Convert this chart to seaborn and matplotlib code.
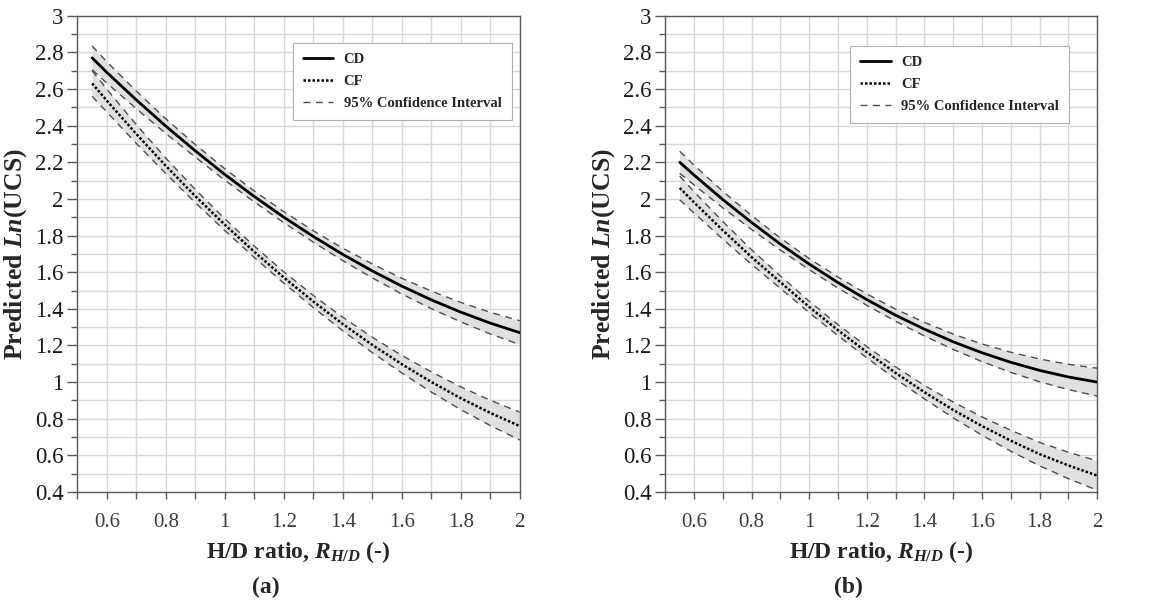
import numpy as np
import pandas as pd
import matplotlib
matplotlib.use("Agg")
import matplotlib.pyplot as plt
from matplotlib.ticker import MultipleLocator, FuncFormatter
from matplotlib.lines import Line2D
import seaborn as sns

# H/D ratio sample points
hd = [0.55, 0.6, 0.7, 0.8, 0.9, 1.0, 1.1, 1.2, 1.3, 1.4, 1.5, 1.6, 1.7, 1.8, 1.9, 2.0]

# panel (a)
cd_a = [2.77, 2.69, 2.54, 2.397, 2.262, 2.133, 2.013, 1.90, 1.795, 1.697, 1.607, 1.524, 1.449, 1.382, 1.322, 1.27]
cd_a_hw = [0.065, 0.058, 0.048, 0.040, 0.034, 0.031, 0.030, 0.030, 0.031, 0.034, 0.038, 0.043, 0.048, 0.053, 0.059, 0.065]
cf_a = [2.63, 2.536, 2.354, 2.18, 2.015, 1.859, 1.711, 1.571, 1.44, 1.317, 1.203, 1.098, 1.001, 0.912, 0.832, 0.76]
cf_a_hw = [0.070, 0.062, 0.051, 0.042, 0.036, 0.032, 0.031, 0.031, 0.033, 0.037, 0.042, 0.048, 0.055, 0.062, 0.069, 0.076]

# panel (b)
cd_b = [2.20, 2.13, 1.996, 1.871, 1.753, 1.644, 1.543, 1.45, 1.365, 1.289, 1.22, 1.16, 1.108, 1.064, 1.028, 1.00]
cd_b_hw = [0.060, 0.054, 0.045, 0.038, 0.033, 0.030, 0.030, 0.031, 0.033, 0.037, 0.042, 0.048, 0.055, 0.062, 0.069, 0.076]
cf_b = [2.06, 1.981, 1.828, 1.682, 1.545, 1.41, 1.283, 1.163, 1.05, 0.945, 0.848, 0.76, 0.68, 0.607, 0.545, 0.49]
cf_b_hw = [0.065, 0.058, 0.048, 0.040, 0.034, 0.031, 0.030, 0.031, 0.033, 0.037, 0.043, 0.050, 0.057, 0.064, 0.072, 0.080]

panels = [("(a)", cd_a, cd_a_hw, cf_a, cf_a_hw), ("(b)", cd_b, cd_b_hw, cf_b, cf_b_hw)]

sns.set_theme(style="white")
plt.rcParams["font.family"] = ["Liberation Serif", "DejaVu Serif"]
plt.rcParams["mathtext.fontset"] = "custom"
plt.rcParams["mathtext.rm"] = "Liberation Serif:bold"
plt.rcParams["mathtext.it"] = "Liberation Serif:italic:bold"
plt.rcParams["mathtext.bf"] = "Liberation Serif:bold"

fig = plt.figure(figsize=(11.55, 6.03), dpi=100)
ax_pos = [[0.067, 0.184, 0.383, 0.790], [0.576, 0.184, 0.374, 0.790]]
leg_anchor = [(0.982, 0.943), (0.935, 0.937)]

band_col = "#e0e0e0"
ci_col = "#4d4d4d"
axis_col = "#5a5a5a"

fmt = FuncFormatter(lambda v, p: "%g" % round(v, 2))

for i, (tag, cd, cd_hw, cf, cf_hw) in enumerate(panels):
    ax = fig.add_axes(ax_pos[i])
    x = np.array(hd)
    for mid, hw, ls, lw in [(cd, cd_hw, "-", 2.0), (cf, cf_hw, (0, (1, 0.8)), 1.8)]:
        mid = np.array(mid)
        hw = np.array(hw)
        ax.fill_between(x, mid - hw, mid + hw, color=band_col, lw=0, zorder=2)
        df = pd.DataFrame({"hd": x, "lo": mid - hw, "hi": mid + hw, "mid": mid})
        for col in ["lo", "hi"]:
            sns.lineplot(data=df, x="hd", y=col, ax=ax, color=ci_col, lw=1.0,
                         linestyle=(0, (5, 4)), zorder=3)
        sns.lineplot(data=df, x="hd", y="mid", ax=ax, color="black", lw=lw,
                     linestyle=ls, zorder=4)

    ax.set_xlim(0.5, 2.0)
    ax.set_ylim(0.4, 3.0)
    ax.xaxis.set_major_locator(MultipleLocator(0.2))
    ax.xaxis.set_minor_locator(MultipleLocator(0.1))
    ax.yaxis.set_major_locator(MultipleLocator(0.2))
    ax.yaxis.set_minor_locator(MultipleLocator(0.1))
    ax.xaxis.set_major_formatter(fmt)
    ax.yaxis.set_major_formatter(fmt)
    ax.set_xticks([0.6, 0.8, 1.0, 1.2, 1.4, 1.6, 1.8, 2.0])
    ax.grid(True, which="both", color="#d8d8d8", lw=1.0, zorder=0)
    ax.set_axisbelow(True)
    for s in ax.spines.values():
        s.set_color(axis_col)
        s.set_linewidth(1.0)
    ax.tick_params(axis="y", which="major", direction="out", length=7, width=1,
                   color=axis_col, labelsize=16.5, labelcolor="#1a1a1a", pad=3, left=True)
    ax.tick_params(axis="y", which="minor", direction="out", length=4, width=1,
                   color=axis_col, left=True)
    ax.tick_params(axis="x", which="major", direction="out", length=5, width=1,
                   color=axis_col, labelsize=15, labelcolor="#3c3c3c", pad=10, bottom=True)
    ax.tick_params(axis="x", which="minor", direction="out", length=5, width=1,
                   color=axis_col, bottom=True)

    ax.set_ylabel(r"Predicted $\mathit{Ln}$(UCS)", fontsize=18.5, fontweight="bold", labelpad=4)
    ax.set_xlabel(r"H/D ratio, $R_{H/D}$ (-)", fontsize=17, fontweight="bold", labelpad=5)
    ax.text(0.425, -0.2, tag, transform=ax.transAxes, ha="center", va="center",
            fontsize=17, fontweight="bold")

    handles = [
        Line2D([], [], color="black", lw=2.0, linestyle="-"),
        Line2D([], [], color="black", lw=1.8, linestyle=(0, (1, 0.8))),
        Line2D([], [], color=ci_col, lw=1.0, linestyle=(0, (5, 4))),
    ]
    leg = ax.legend(handles, ["CD", "CF", "95% Confidence Interval"], loc="upper right",
                    bbox_to_anchor=leg_anchor[i], borderaxespad=0, fancybox=False,
                    framealpha=1, edgecolor="#b0b0b0", handlelength=2.1,
                    handletextpad=0.7, labelspacing=0.6, borderpad=0.7,
                    prop={"family": "Liberation Serif", "weight": "bold", "size": 10.5})
    leg.get_frame().set_linewidth(0.8)

fig.savefig("out.png", dpi=100)
